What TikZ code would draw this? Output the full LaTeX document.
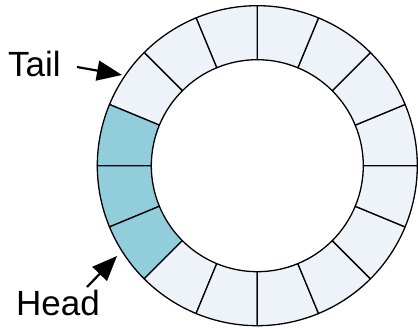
\documentclass[tikz,border=0pt]{standalone}
\usepackage{fontspec}
\setmainfont{Liberation Sans}
\usetikzlibrary{arrows.meta,calc}
\definecolor{cellfill}{HTML}{EEF3FA}
\definecolor{headfill}{HTML}{92CDDC}
\tikzset{
  cell/.style={draw=black, line width=1.3pt, fill=cellfill, line join=round},
  used/.style={cell, fill=headfill},
  label/.style={font=\fontsize{35}{40}\selectfont, inner sep=0pt},
  pointer/.style={line width=2.2pt, -{Triangle[length=25pt,width=20pt]}}
}
\begin{document}
\begin{tikzpicture}[x=1pt,y=1pt]
\useasboundingbox (0,0) rectangle (418,329);
\coordinate (c) at (257.3,163.3);
\def\Ro{160}
\def\Ri{106}
\foreach \i in {0,...,15}{
  \pgfmathsetmacro{\a}{\i*22.5}
  \pgfmathsetmacro{\b}{\a+22.5}
  \pgfmathtruncatemacro{\isused}{(\i==7)||(\i==8)||(\i==9)}
  \ifnum\isused=1
    \def\sty{used}
  \else
    \def\sty{cell}
  \fi
  \draw[\sty] ($(c)+(\a:\Ro)$) arc[start angle=\a, end angle=\b, radius=\Ro]
    -- ($(c)+(\b:\Ri)$) arc[start angle=\b, end angle=\a, radius=\Ri] -- cycle;
}
\node[label, anchor=base west] (tail) at (8,252) {Tail};
\node[label, anchor=base west] (head) at (16,13) {Head};
\coordinate (tailstart) at (77,262);
\coordinate (tailtip) at (122,254);
\coordinate (headstart) at (87,42);
\coordinate (headtip) at (117,73);
\draw[pointer] (tailstart) -- (tailtip);
\draw[pointer] (headstart) -- (headtip);
\end{tikzpicture}
\end{document}
